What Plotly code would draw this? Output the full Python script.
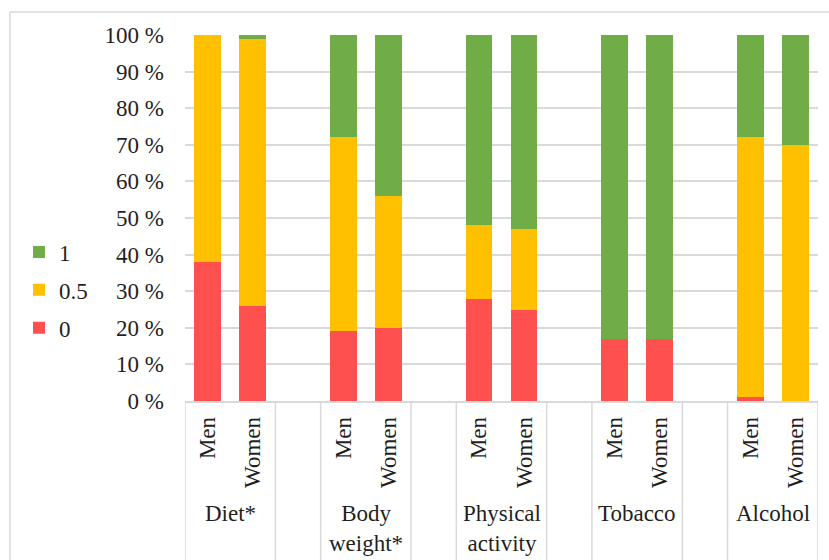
import plotly.graph_objects as go

groups = ["Diet*", "Body<br>weight*", "Physical<br>activity", "Tobacco", "Alcohol"]
sexes = ["Men", "Women"]
score_0 = [38, 26, 19, 20, 28, 25, 17, 17, 1, 0]
score_05 = [62, 73, 53, 36, 20, 22, 0, 0, 71, 70]
score_1 = [0, 1, 28, 44, 52, 53, 83, 83, 28, 30]
y_ticks = [0, 10, 20, 30, 40, 50, 60, 70, 80, 90, 100]

FONT = "Liberation Serif"
FS = 23
TXT = "#1f1f1f"
GRID = "#d9d9d9"

xpos = [g * 3 + i for g in range(len(groups)) for i in range(len(sexes))]
xlab = [s for g in groups for s in sexes]

fig = go.Figure()
series = [("0", score_0, "#ff5050", 3), ("0.5", score_05, "#ffc000", 2), ("1", score_1, "#70ad47", 1)]
for name, vals, col, rank in series:
    fig.add_trace(go.Bar(x=xpos, y=vals, name=name, marker_color=col,
                         marker_line_width=0, legendgroup=name, legendrank=rank))

shapes = []
for g in range(len(groups)):
    for xv in (g * 3 - 0.5, g * 3 + 1.5):
        shapes.append(dict(type="line", xref="x", yref="paper", x0=xv, x1=xv,
                           y0=0, y1=-0.45, line=dict(color=GRID, width=1.5)))
# outer frame (left and top)
L, R, T, B = 185, 11, 35, 159
pw, ph = 829 - L - R, 560 - T - B
fx = (10 - L) / pw
fy = 1 + (T - 12) / ph
shapes.append(dict(type="line", xref="paper", yref="paper", x0=fx, x1=fx, y0=fy, y1=-0.5,
                   line=dict(color=GRID, width=1.5)))
shapes.append(dict(type="line", xref="paper", yref="paper", x0=fx, x1=1.1, y0=fy, y1=fy,
                   line=dict(color=GRID, width=1.5)))

annotations = []
for g, name in enumerate(groups):
    annotations.append(dict(x=g * 3 + 0.5, xref="x", y=(401 - 499) / ph, yref="paper",
                            text=name, showarrow=False, yanchor="top", xanchor="center",
                            font=dict(family=FONT, size=FS, color=TXT)))

fig.update_layout(
    width=829, height=560,
    margin=dict(l=L, r=R, t=T, b=B),
    barmode="stack", bargap=0.41,
    plot_bgcolor="white", paper_bgcolor="white",
    font=dict(family=FONT, size=FS, color=TXT),
    shapes=shapes, annotations=annotations,
    legend=dict(x=(19 - L) / pw, xanchor="left", y=(401 - 290) / ph, yanchor="middle",
                traceorder="grouped", tracegroupgap=5,
                font=dict(family=FONT, size=FS, color=TXT)),
    xaxis=dict(range=[-0.5, 13.5], tickmode="array", tickvals=xpos, ticktext=xlab,
               tickangle=-90, showgrid=False, showline=True, linecolor=GRID, linewidth=1.5,
               ticks="", ticklabelstandoff=5, zeroline=False,
               tickfont=dict(family=FONT, size=FS, color=TXT)),
    yaxis=dict(range=[0, 100], tickmode="array", tickvals=y_ticks,
               ticktext=[f"{v} %" for v in y_ticks], showgrid=True,
               gridcolor=GRID, gridwidth=1.5, showline=False, zeroline=False,
               ticks="", ticklabelstandoff=20,
               tickfont=dict(family=FONT, size=FS, color=TXT)),
)

fig.write_html("out.html")
